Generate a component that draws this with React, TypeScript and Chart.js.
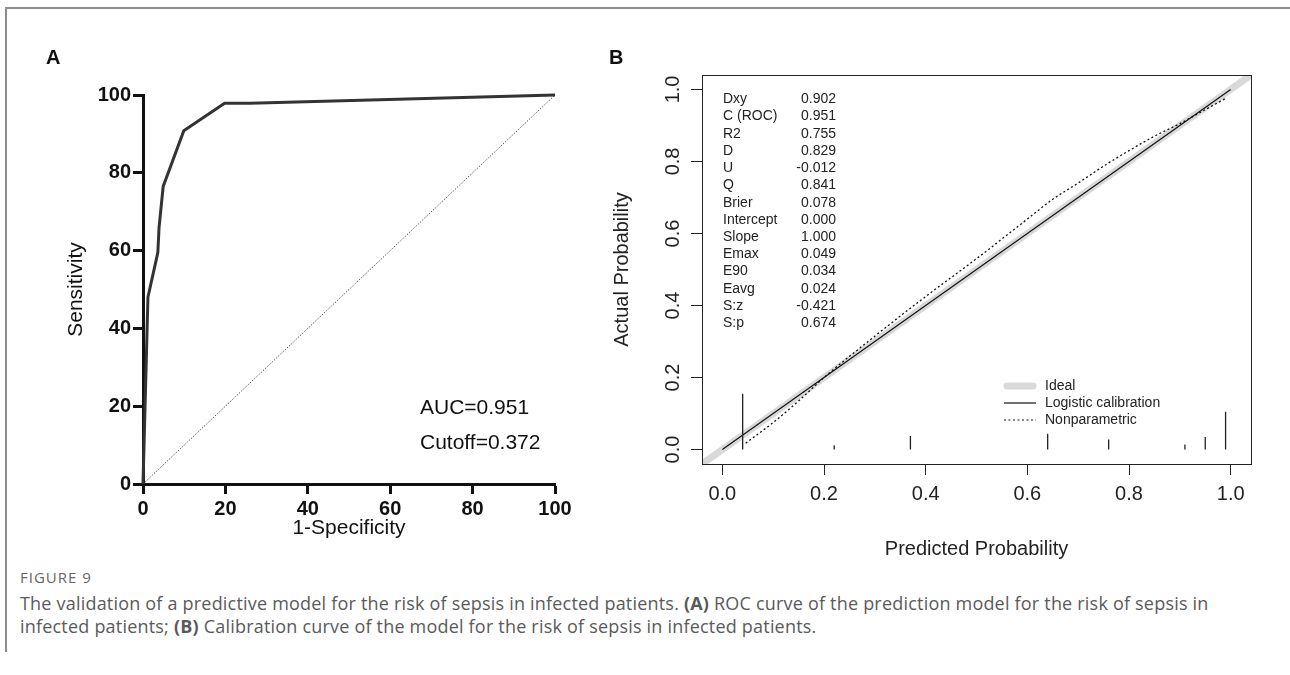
import React, { useEffect, useRef } from "react";
import { Chart, registerables } from "chart.js";

Chart.register(...registerables);

// ---------- Panel A: ROC ----------
const rocFpr = [0, 1.2, 3.6, 3.9, 4.9, 9.9, 19.8, 26, 100];
const rocTpr = [0, 48, 59.5, 66, 76.5, 90.8, 97.9, 97.9, 100];
const refX = [0, 100];
const refY = [0, 100];
const rocTicks = [0, 20, 40, 60, 80, 100];
const aucLines = ["AUC=0.951", "Cutoff=0.372"];

// ---------- Panel B: calibration ----------
const calTicks = [0, 0.2, 0.4, 0.6, 0.8, 1.0];
const idealX = [-0.04, 1.04];
const idealY = [-0.04, 1.04];
const logisticX = [0, 1];
const logisticY = [0, 1];
const npX = [0.046, 0.1, 0.15, 0.2, 0.3, 0.4, 0.5, 0.6, 0.65, 0.7, 0.75, 0.8, 0.85, 0.9, 0.94, 0.99];
const npY = [0.018, 0.075, 0.135, 0.2, 0.315, 0.425, 0.53, 0.64, 0.695, 0.74, 0.787, 0.83, 0.87, 0.905, 0.936, 0.975];
const rugX = [0.04, 0.22, 0.37, 0.64, 0.76, 0.91, 0.95, 0.99];
const rugH = [0.155, 0.012, 0.038, 0.044, 0.028, 0.014, 0.035, 0.105];
const statNames = ["Dxy", "C (ROC)", "R2", "D", "U", "Q", "Brier", "Intercept", "Slope", "Emax", "E90", "Eavg", "S:z", "S:p"];
const statValues = ["0.902", "0.951", "0.755", "0.829", "-0.012", "0.841", "0.078", "0.000", "1.000", "0.049", "0.034", "0.024", "-0.421", "0.674"];
const legendLabels = ["Ideal", "Logistic calibration", "Nonparametric"];

const FONT = "'Liberation Sans', Arial, sans-serif";

function RocChart() {
  const ref = useRef<HTMLCanvasElement | null>(null);
  useEffect(() => {
    const canvas = ref.current!;
    const textPlugin = {
      id: "rocText",
      afterDraw(chart: any) {
        const ctx = chart.ctx;
        ctx.save();
        ctx.fillStyle = "#111";
        ctx.textBaseline = "middle";
        ctx.font = `bold 20px ${FONT}`;
        ctx.textAlign = "left";
        ctx.fillText("A", 46, 58);
        ctx.font = `21px ${FONT}`;
        ctx.fillText(aucLines[0], 420, 408);
        ctx.fillText(aucLines[1], 420, 443);
        ctx.textAlign = "center";
        const ca = chart.chartArea;
        ctx.fillText("1-Specificity", (ca.left + ca.right) / 2, 528);
        ctx.translate(76, (ca.top + ca.bottom) / 2);
        ctx.rotate(-Math.PI / 2);
        ctx.fillText("Sensitivity", 0, 0);
        ctx.restore();
      },
    };
    const tickFont = { family: FONT, size: 20, weight: "bold" as const };
    const chart = new Chart(canvas, {
      type: "line",
      data: {
        datasets: [
          {
            data: rocFpr.map((x, i) => ({ x, y: rocTpr[i] })),
            borderColor: "#333",
            borderWidth: 3,
            pointRadius: 0,
            tension: 0,
            clip: false as any,
          },
          {
            data: refX.map((x, i) => ({ x, y: refY[i] })),
            borderColor: "#555",
            borderWidth: 1,
            borderDash: [1.5, 1.5],
            pointRadius: 0,
            clip: false as any,
          },
        ],
      },
      options: {
        responsive: false,
        animation: false,
        events: [],
        layout: { padding: { left: 83, top: 95, right: 45, bottom: 36 } },
        plugins: { legend: { display: false }, tooltip: { enabled: false } },
        scales: {
          x: {
            type: "linear",
            min: 0,
            max: 100,
            afterBuildTicks: (s: any) => {
              s.ticks = rocTicks.map((v) => ({ value: v }));
            },
            afterFit: (s: any) => {
              s.height = 40;
            },
            grid: { display: true, drawOnChartArea: false, drawTicks: true, tickLength: 10, tickWidth: 3, tickColor: "#111" },
            border: { display: true, width: 3, color: "#111" },
            ticks: { font: tickFont, color: "#111", padding: 3, maxRotation: 0 },
          },
          y: {
            type: "linear",
            min: 0,
            max: 100,
            afterBuildTicks: (s: any) => {
              s.ticks = rocTicks.map((v) => ({ value: v }));
            },
            afterFit: (s: any) => {
              s.width = 60;
            },
            grid: { display: true, drawOnChartArea: false, drawTicks: true, tickLength: 10, tickWidth: 3, tickColor: "#111" },
            border: { display: true, width: 3, color: "#111" },
            ticks: { font: tickFont, color: "#111", padding: 2 },
          },
        },
      },
      plugins: [textPlugin],
    } as any);
    return () => chart.destroy();
  }, []);
  return (
    <canvas
      ref={ref}
      width={600}
      height={560}
      style={{ position: "absolute", left: 0, top: 0, width: 600, height: 560 }}
    />
  );
}

function CalChart() {
  const ref = useRef<HTMLCanvasElement | null>(null);
  useEffect(() => {
    const canvas = ref.current!;
    const OX = 600;
    const textPlugin = {
      id: "calText",
      afterDraw(chart: any) {
        const ctx = chart.ctx;
        const ca = chart.chartArea;
        const ys = chart.scales.y;
        ctx.save();
        // box
        ctx.strokeStyle = "#222";
        ctx.lineWidth = 1;
        ctx.strokeRect(Math.round(ca.left) + 0.5, Math.round(ca.top) + 0.5, Math.round(ca.right - ca.left), Math.round(ca.bottom - ca.top));
        ctx.fillStyle = "#111";
        ctx.textBaseline = "middle";
        ctx.font = `bold 20px ${FONT}`;
        ctx.textAlign = "left";
        ctx.fillText("B", 609 - OX, 58);
        // stats
        ctx.fillStyle = "#222";
        ctx.font = `14px ${FONT}`;
        statNames.forEach((n, i) => {
          const y = 99.3 + 17.23 * i;
          ctx.textAlign = "left";
          ctx.fillText(n, 723 - OX, y);
          ctx.textAlign = "right";
          ctx.fillText(statValues[i], 836 - OX, y);
        });
        // legend
        const ly = [386, 403, 420];
        ctx.textAlign = "left";
        legendLabels.forEach((l, i) => ctx.fillText(l, 1045 - OX, ly[i]));
        ctx.lineCap = "round";
        ctx.strokeStyle = "#d9d9d9";
        ctx.lineWidth = 7;
        ctx.beginPath();
        ctx.moveTo(1007 - OX, ly[0]);
        ctx.lineTo(1033 - OX, ly[0]);
        ctx.stroke();
        ctx.lineCap = "butt";
        ctx.strokeStyle = "#111";
        ctx.lineWidth = 1.2;
        ctx.beginPath();
        ctx.moveTo(1004 - OX, ly[1]);
        ctx.lineTo(1036 - OX, ly[1]);
        ctx.stroke();
        ctx.setLineDash([2, 2.5]);
        ctx.beginPath();
        ctx.moveTo(1004 - OX, ly[2]);
        ctx.lineTo(1036 - OX, ly[2]);
        ctx.stroke();
        ctx.setLineDash([]);
        // y tick labels (rotated)
        ctx.fillStyle = "#222";
        ctx.font = `20px ${FONT}`;
        ctx.textAlign = "center";
        calTicks.forEach((t) => {
          const py = ys.getPixelForValue(t);
          ctx.save();
          ctx.translate(673 - OX, py);
          ctx.rotate(-Math.PI / 2);
          ctx.fillText(t.toFixed(1), 0, 0);
          ctx.restore();
        });
        // titles
        ctx.fillText("Predicted Probability", (ca.left + ca.right) / 2, 549);
        ctx.save();
        ctx.translate(622 - OX, (ca.top + ca.bottom) / 2);
        ctx.rotate(-Math.PI / 2);
        ctx.fillText("Actual Probability", 0, 0);
        ctx.restore();
        ctx.restore();
      },
    };
    const chart = new Chart(canvas, {
      type: "line",
      data: {
        datasets: [
          {
            data: rugX.flatMap((x, i) => [
              { x, y: 0 },
              { x, y: rugH[i] },
              { x, y: null },
            ]),
            borderColor: "#222",
            borderWidth: 1.3,
            pointRadius: 0,
            spanGaps: false,
            clip: false as any,
          },
          {
            data: npX.map((x, i) => ({ x, y: npY[i] })),
            borderColor: "#111",
            borderWidth: 1.3,
            borderDash: [2, 2.5],
            pointRadius: 0,
            tension: 0.3,
            cubicInterpolationMode: "monotone",
            clip: 0 as any,
          },
          {
            data: logisticX.map((x, i) => ({ x, y: logisticY[i] })),
            borderColor: "#111",
            borderWidth: 1.2,
            pointRadius: 0,
            clip: 0 as any,
          },
          {
            data: idealX.map((x, i) => ({ x, y: idealY[i] })),
            borderColor: "#d9d9d9",
            borderWidth: 7,
            pointRadius: 0,
            clip: 0 as any,
          },
        ],
      },
      options: {
        responsive: false,
        animation: false,
        events: [],
        layout: { padding: { left: 62, top: 75, right: 39, bottom: 46 } },
        plugins: { legend: { display: false }, tooltip: { enabled: false } },
        scales: {
          x: {
            type: "linear",
            min: -0.04,
            max: 1.04,
            afterBuildTicks: (s: any) => {
              s.ticks = calTicks.map((v) => ({ value: v }));
            },
            afterFit: (s: any) => {
              s.height = 50;
            },
            grid: { display: true, drawOnChartArea: false, drawTicks: true, tickLength: 11, tickWidth: 1, tickColor: "#222" },
            border: { display: true, width: 1, color: "#222" },
            ticks: {
              font: { family: FONT, size: 20 },
              color: "#222",
              padding: 7,
              maxRotation: 0,
              callback: (v: any) => Number(v).toFixed(1),
            },
          },
          y: {
            type: "linear",
            min: -0.04,
            max: 1.04,
            afterBuildTicks: (s: any) => {
              s.ticks = calTicks.map((v) => ({ value: v }));
            },
            afterFit: (s: any) => {
              s.width = 40;
            },
            grid: { display: true, drawOnChartArea: false, drawTicks: true, tickLength: 11, tickWidth: 1, tickColor: "#222" },
            border: { display: true, width: 1, color: "#222" },
            ticks: { display: false },
          },
        },
      },
      plugins: [textPlugin],
    } as any);
    return () => chart.destroy();
  }, []);
  return (
    <canvas
      ref={ref}
      width={690}
      height={560}
      style={{ position: "absolute", left: 600, top: 0, width: 690, height: 560 }}
    />
  );
}

export default function App() {
  const cap: React.CSSProperties = {
    position: "absolute",
    left: 20,
    fontFamily: "'Open Sans', 'Noto Sans', sans-serif",
    color: "#5a5a5a",
    whiteSpace: "nowrap",
    margin: 0,
  };
  return (
    <div style={{ position: "absolute", left: 0, top: 0, width: 1290, height: 675, background: "#fff", overflow: "hidden" }}>
      <div
        style={{
          position: "absolute",
          left: 5,
          top: 7,
          width: 1290,
          height: 643,
          borderTop: "2px solid #8c8c8c",
          borderLeft: "2px solid #8c8c8c",
        }}
      />
      <RocChart />
      <CalChart />
      <div style={{ ...cap, top: 567, fontSize: 15, letterSpacing: 1, lineHeight: "20px", color: "#666" }}>FIGURE 9</div>
      <div style={{ ...cap, top: 592, fontSize: 18, letterSpacing: 0.2, lineHeight: "23px" }}>
        The validation of a predictive model for the risk of sepsis in infected patients. <b>(A)</b> ROC curve of the
        prediction model for the risk of sepsis in
        <br />
        infected patients; <b>(B)</b> Calibration curve of the model for the risk of sepsis in infected patients.
      </div>
    </div>
  );
}
